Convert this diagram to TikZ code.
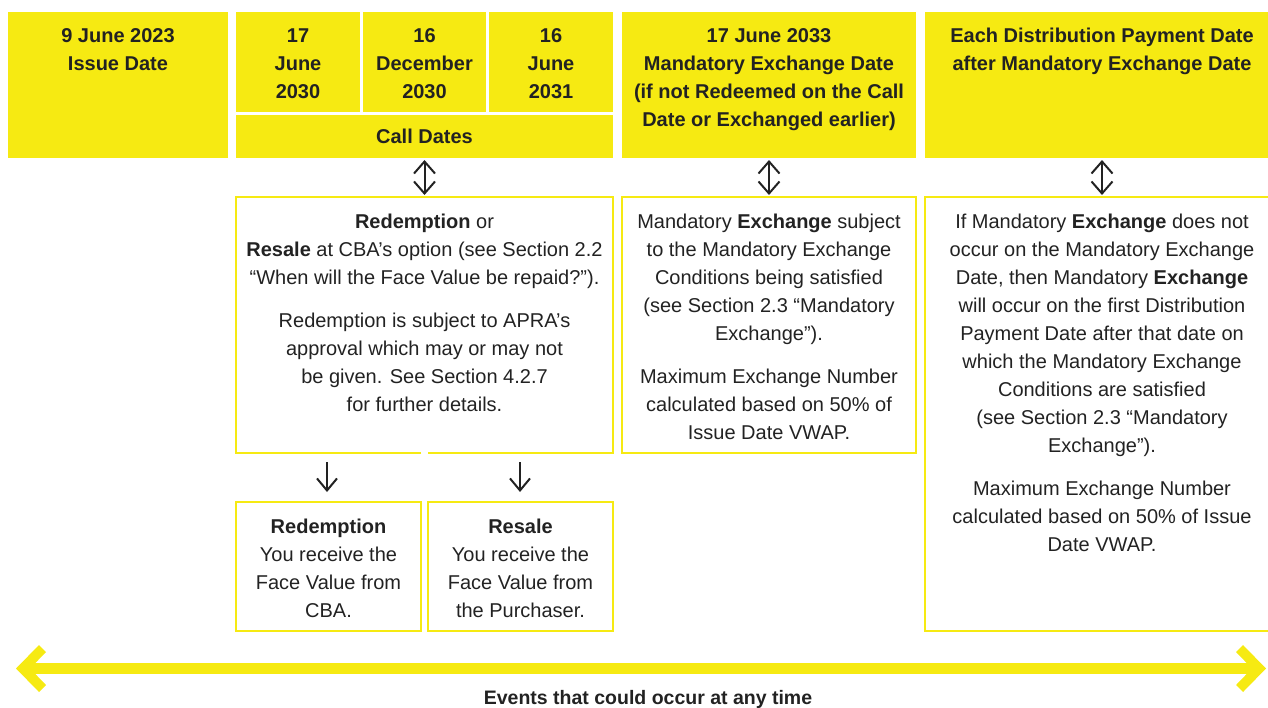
\documentclass[tikz,border=0pt]{standalone}
\usepackage{fontspec}
\setmainfont{Liberation Sans}
\usetikzlibrary{arrows.meta}
\definecolor{ylw}{RGB}{246,234,18}
\definecolor{txt}{RGB}{34,34,34}
\newcommand{\tfl}{\rule{0pt}{20pt}}
\begin{document}
\begin{tikzpicture}[x=1pt,y=-1pt,
  hdr/.style={fill=ylw,draw=none,anchor=north west,inner sep=0,outer sep=0},
  obox/.style={draw=ylw,line width=1.5pt,anchor=north west,inner sep=0,outer sep=0},
  ttl/.style={inner sep=0,outer sep=0,align=center,anchor=north,text=txt,font=\fontsize{20}{28}\selectfont\bfseries},
  body/.style={inner sep=0,outer sep=0,align=center,anchor=north,text=txt,font=\fontsize{20}{28}\selectfont},
  dbl/.style={draw=txt,line width=2pt,{Straight Barb[length=12pt,width=21pt]}-{Straight Barb[length=12pt,width=21pt]}},
  down/.style={draw=txt,line width=2pt,-{Straight Barb[length=12pt,width=20pt]}}]
\useasboundingbox (0,0) rectangle (1268,707);
% header boxes
\node[hdr,minimum width=220pt,minimum height=146pt] (issue) at (8,12) {};
\node[hdr,minimum width=124pt,minimum height=100pt] (d1) at (236,12) {};
\node[hdr,minimum width=123pt,minimum height=100pt] (d2) at (363,12) {};
\node[hdr,minimum width=124pt,minimum height=100pt] (d3) at (489,12) {};
\node[hdr,minimum width=377pt,minimum height=43pt] (call) at (236,115) {};
\node[hdr,minimum width=294pt,minimum height=146pt] (mand) at (622,12) {};
\node[hdr,minimum width=354pt,minimum height=146pt] (each) at (925,12) {};
\node[ttl] (issueT) at ([yshift=-10pt]issue.north) {\tfl 9 June 2023\\Issue Date};
\node[ttl] (d1T) at ([yshift=-10pt]d1.north) {\tfl 17\\June\\2030};
\node[ttl] (d2T) at ([yshift=-10pt]d2.north) {\tfl 16\\December\\2030};
\node[ttl] (d3T) at ([yshift=-10pt]d3.north) {\tfl 16\\June\\2031};
\node[ttl] (callT) at ([yshift=-8pt]call.north) {\tfl Call Dates};
\node[ttl] (mandT) at ([yshift=-10pt]mand.north) {\tfl 17 June 2033\\Mandatory Exchange Date\\(if not Redeemed on the Call\\Date or Exchanged earlier)};
\node[ttl] (eachT) at ([yshift=-10pt]each.north) {\tfl Each Distribution Payment Date\\after Mandatory Exchange Date};
% outlined boxes
\node[anchor=north west,inner sep=0,outer sep=0,minimum width=377pt,minimum height=256pt] (red) at (236,197) {};
\draw[draw=ylw,line width=1.5pt] ([xshift=-3.5pt]red.south) -| (red.north west) -| (red.south east) -- ([xshift=3.5pt]red.south);
\node[obox,minimum width=294pt,minimum height=256pt] (mandB) at (622,197) {};
\node[obox,minimum width=354pt,minimum height=434pt] (eachB) at (925,197) {};
\node[obox,minimum width=185pt,minimum height=129pt] (redA) at (236,502) {};
\node[obox,minimum width=185pt,minimum height=129pt] (resA) at (428,502) {};
\node[body] (redT) at ([yshift=-11pt]red.north) {\tfl\textbf{Redemption} or\\\textbf{Resale} at CBA’s option (see Section 2.2\\“When will the Face Value be repaid?”).\\[15pt]Redemption is subject to APRA’s\\approval which may or may not\\be given. See Section 4.2.7\\for further details.};
\node[body] (mandBT) at ([yshift=-11pt]mandB.north) {\tfl Mandatory \textbf{Exchange} subject\\to the Mandatory Exchange\\Conditions being satisfied\\(see Section 2.3 “Mandatory\\Exchange”).\\[15pt]Maximum Exchange Number\\calculated based on 50\% of\\Issue Date VWAP.};
\node[body] (eachBT) at ([yshift=-11pt]eachB.north) {\tfl If Mandatory \textbf{Exchange} does not\\occur on the Mandatory Exchange\\Date, then Mandatory \textbf{Exchange}\\will occur on the first Distribution\\Payment Date after that date on\\which the Mandatory Exchange\\Conditions are satisfied\\(see Section 2.3 “Mandatory\\Exchange”).\\[15pt]Maximum Exchange Number\\calculated based on 50\% of Issue\\Date VWAP.};
\node[body] (redAT) at ([yshift=-11pt]redA.north) {\tfl\textbf{Redemption}\\You receive the\\Face Value from\\CBA.};
\node[body] (resAT) at ([yshift=-11pt]resA.north) {\tfl\textbf{Resale}\\You receive the\\Face Value from\\the Purchaser.};
% arrows
\draw[dbl,shorten <=2pt,shorten >=2pt] (call.south) -- (red.north);
\draw[dbl,shorten <=2pt,shorten >=2pt] (mand.south) -- (mandB.north);
\draw[dbl,shorten <=2pt,shorten >=2pt] (each.south) -- (eachB.north);
\coordinate (a1) at (327,462);
\coordinate (a2) at (520,462);
\draw[down,shorten >=10pt] (a1) -- (a1 |- redA.north);
\draw[down,shorten >=10pt] (a2) -- (a2 |- resA.north);
% timeline
\fill[ylw] (30,663) rectangle (1252,674);
\fill[ylw] (16,668.5) -- (39,645) -- (46,652) -- (30,668.5) -- (46,685) -- (39,692) -- cycle;
\fill[ylw] (1266,668.5) -- (1243,645) -- (1236,652) -- (1252,668.5) -- (1236,685) -- (1243,692) -- cycle;
\node[inner sep=0,anchor=base,text=txt,font=\fontsize{19.5}{22}\selectfont\bfseries] (events) at (648,704) {Events that could occur at any time};
\end{tikzpicture}
\end{document}
